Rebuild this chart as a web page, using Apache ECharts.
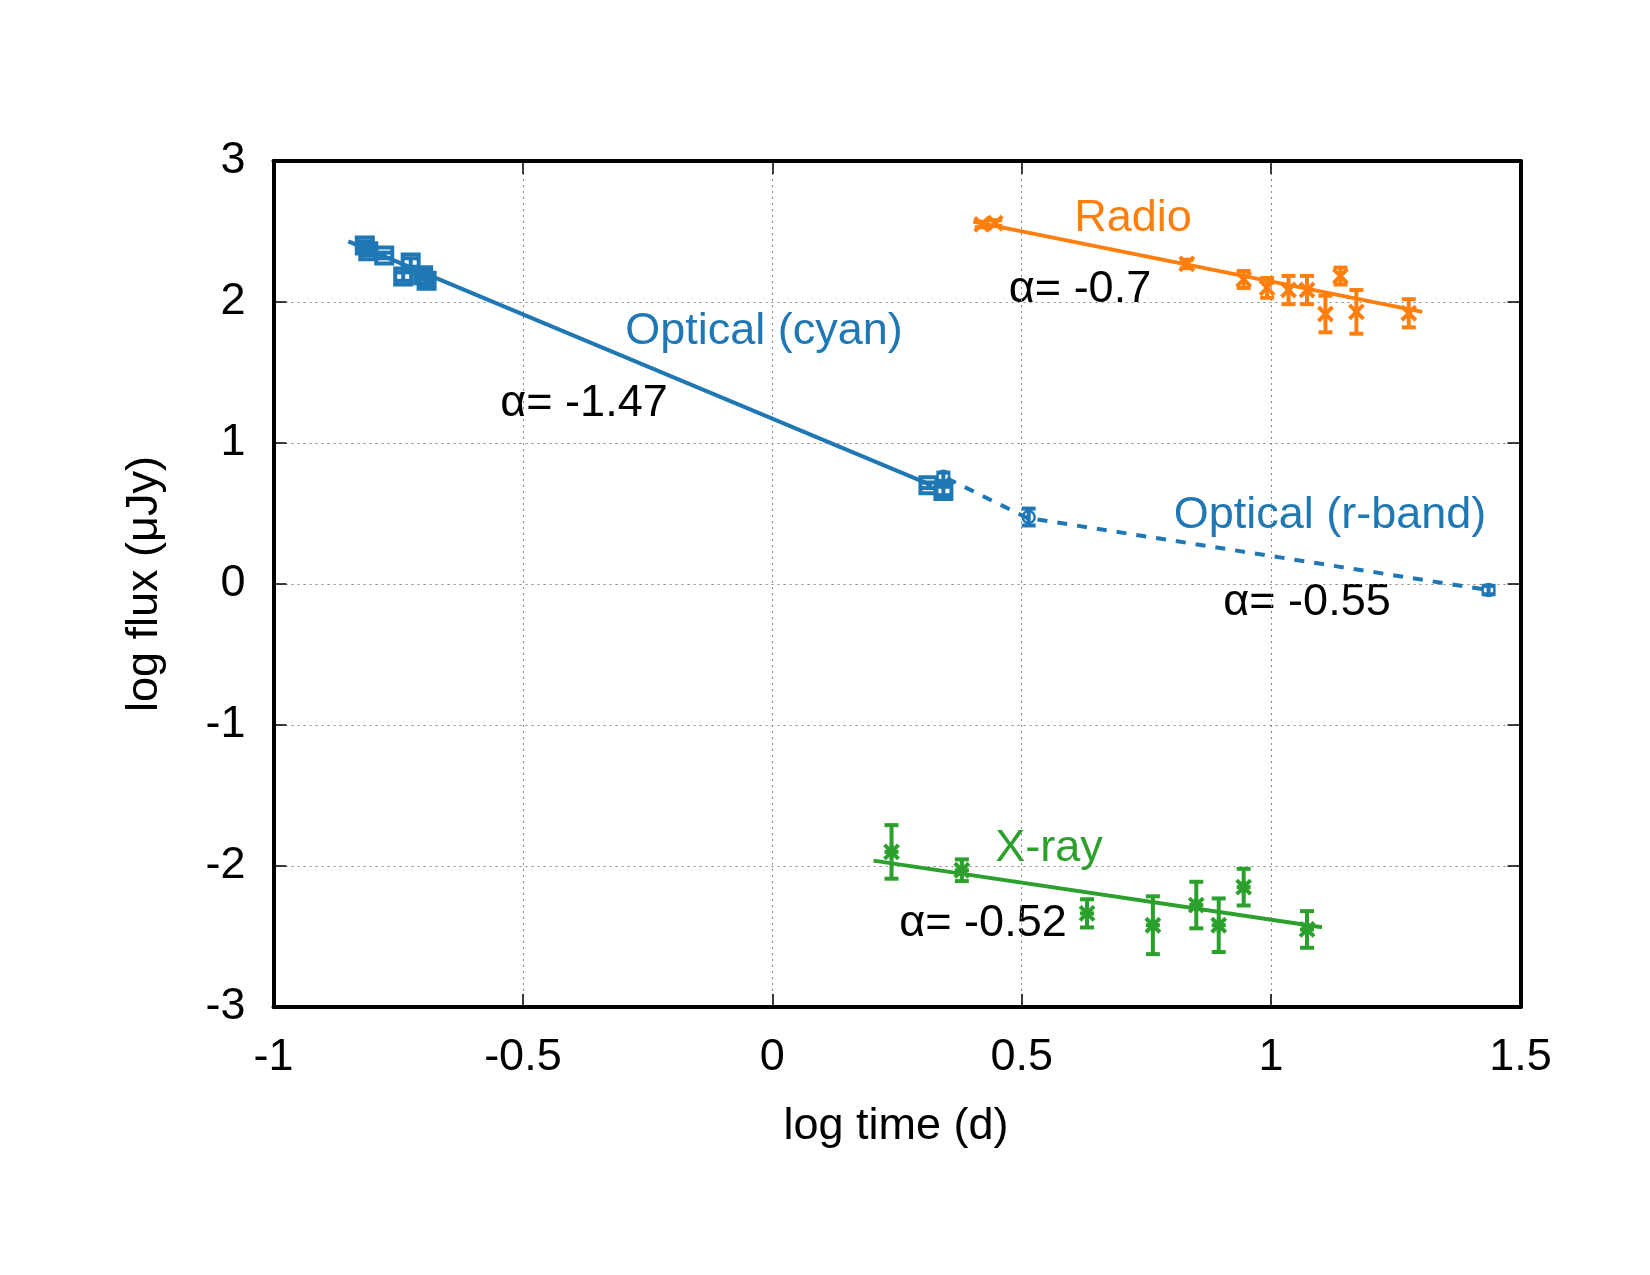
<!DOCTYPE html>
<html>
<head>
<meta charset="utf-8">
<script src="https://cdn.jsdelivr.net/npm/echarts@6/dist/echarts.min.js"></script>
<style>
  html, body { margin: 0; padding: 0; background: #fff; }
  #chart { width: 1650px; height: 1275px; }
</style>
</head>
<body>
<div id="chart"></div>
<script>
// data: [log t, log flux, error]
const cyanPts = [
  [-0.817, 2.40, 0.03], [-0.81, 2.36, 0.03], [-0.778, 2.33, 0.02],
  [-0.725, 2.28, 0.03], [-0.74, 2.18, 0.03], [-0.70, 2.19, 0.03],
  [-0.693, 2.15, 0.03], [0.313, 0.70, 0.02], [0.343, 0.66, 0.03]
];
const rbandPts = [[0.343, 0.76, 0.03], [0.514, 0.475, 0.06], [1.436, -0.043, 0.03]];
const radioPts = [
  [0.42, 2.55, 0.02], [0.447, 2.56, 0.02], [0.831, 2.27, 0.03],
  [0.945, 2.16, 0.06], [0.992, 2.10, 0.07], [1.035, 2.085, 0.10],
  [1.072, 2.085, 0.10], [1.109, 1.915, 0.13], [1.139, 2.184, 0.06],
  [1.171, 1.93, 0.155], [1.276, 1.92, 0.10]
];
const xrayPts = [
  [0.239, -1.90, 0.19], [0.380, -2.03, 0.077], [0.631, -2.336, 0.10],
  [0.763, -2.42, 0.205], [0.85, -2.277, 0.165], [0.895, -2.42, 0.19],
  [0.945, -2.15, 0.13], [1.072, -2.45, 0.13]
];
// fitted power laws
const cyanFit = [[-0.85, 2.43], [0.32, 0.70]];
const rbandFit = [[0.35, 0.75], [0.51, 0.47], [1.43, -0.04]];
const radioFit = [[0.403, 2.57], [1.303, 1.93]];
const xrayFit = [[0.203, -1.962], [1.102, -2.435]];

const xTicks = [-1, -0.5, 0, 0.5, 1, 1.5];
const yTicks = [-3, -2, -1, 0, 1, 2, 3];

const BLUE = '#1f77b4', ORANGE = '#ff7f0e', GREEN = '#2ca02c';
const FONT = 'Liberation Sans';

function errSeries(name, data, color, shape) {
  return {
    name: name,
    type: 'custom',
    data: data,
    z: 5,
    renderItem: function (params, api) {
      const x = api.value(0), y = api.value(1), e = api.value(2);
      const p = api.coord([x, y]);
      const lo = api.coord([x, y - e]);
      const hi = api.coord([x, y + e]);
      const cw = 7;
      const st = { stroke: color, lineWidth: 4, fill: null };
      const kids = [
        { type: 'line', shape: { x1: p[0], y1: lo[1], x2: p[0], y2: hi[1] }, style: st },
        { type: 'line', shape: { x1: p[0] - cw, y1: lo[1], x2: p[0] + cw, y2: lo[1] }, style: st },
        { type: 'line', shape: { x1: p[0] - cw, y1: hi[1], x2: p[0] + cw, y2: hi[1] }, style: st }
      ];
      const s = 7;
      if (shape === 'square') {
        kids.push({ type: 'rect', shape: { x: p[0] - 8, y: p[1] - 8, width: 16, height: 16 },
          style: { stroke: color, lineWidth: 4, fill: null } });
      } else if (shape === 'circle') {
        kids.push({ type: 'circle', shape: { cx: p[0], cy: p[1], r: 6 },
          style: { stroke: color, lineWidth: 2.5, fill: null } });
      } else {
        kids.push({ type: 'line', shape: { x1: p[0] - s, y1: p[1] - s, x2: p[0] + s, y2: p[1] + s }, style: st });
        kids.push({ type: 'line', shape: { x1: p[0] - s, y1: p[1] + s, x2: p[0] + s, y2: p[1] - s }, style: st });
        if (shape === 'star') {
          kids.push({ type: 'line', shape: { x1: p[0] - s, y1: p[1], x2: p[0] + s, y2: p[1] }, style: st });
          kids.push({ type: 'line', shape: { x1: p[0], y1: p[1] - s, x2: p[0], y2: p[1] + s }, style: st });
        }
      }
      return { type: 'group', children: kids };
    }
  };
}

function fitSeries(data, color, dashed) {
  return {
    type: 'line',
    data: data,
    symbol: 'none',
    z: 4,
    lineStyle: { color: color, width: 4, type: dashed ? [10, 10] : 'solid' }
  };
}

const tickLabel = { fontSize: 45, color: '#000', fontFamily: FONT };
const gridLine = { show: true, lineStyle: { color: '#888', type: [2, 4], width: 1 } };
const frame = { show: true, onZero: false, lineStyle: { color: '#000', width: 4 } };
const ticks = { inside: true, length: 13, lineStyle: { color: '#000', width: 1.5 } };

// label helper for the in-plot annotations
function txt(s, x, y, color) {
  return { type: 'text', x: x, y: y,
    style: { text: s, font: '45px "' + FONT + '"', fill: color, align: 'center', verticalAlign: 'middle' } };
}

const chart = echarts.init(document.getElementById('chart'));
chart.setOption({
  backgroundColor: '#fff',
  animation: false,
  grid: { left: 273.5, right: 129.5, top: 161, bottom: 268 },
  xAxis: [
    { type: 'value', min: xTicks[0], max: xTicks[xTicks.length - 1], interval: 0.5,
      axisLine: frame, axisTick: ticks,
      axisLabel: Object.assign({ margin: 28, showMinLabel: true, showMaxLabel: true }, tickLabel),
      splitLine: gridLine },
    { type: 'value', position: 'top', min: xTicks[0], max: xTicks[xTicks.length - 1], interval: 0.5,
      axisLine: frame, axisTick: ticks,
      axisLabel: { show: false }, splitLine: { show: false } }
  ],
  yAxis: [
    { type: 'value', min: yTicks[0], max: yTicks[yTicks.length - 1], interval: 1,
      axisLine: frame, axisTick: ticks,
      axisLabel: Object.assign({ margin: 28, showMinLabel: true, showMaxLabel: true }, tickLabel),
      splitLine: gridLine },
    { type: 'value', position: 'right', min: yTicks[0], max: yTicks[yTicks.length - 1], interval: 1,
      axisLine: frame, axisTick: ticks,
      axisLabel: { show: false }, splitLine: { show: false } }
  ],
  series: [
    fitSeries(cyanFit, BLUE, false),
    fitSeries(rbandFit, BLUE, true),
    fitSeries(radioFit, ORANGE, false),
    fitSeries(xrayFit, GREEN, false),
    errSeries('Optical (cyan)', cyanPts, BLUE, 'square'),
    errSeries('Optical (r-band)', rbandPts, BLUE, 'circle'),
    errSeries('Radio', radioPts, ORANGE, 'cross'),
    errSeries('X-ray', xrayPts, GREEN, 'star')
  ],
  graphic: [
    txt('log time (d)', 896, 1127, '#000'),
    { type: 'text', x: 145, y: 584, rotation: Math.PI / 2,
      style: { text: 'log flux (μJy)', font: '45px "' + FONT + '"', fill: '#000', align: 'center', verticalAlign: 'middle' } },
    txt('Optical (cyan)', 764, 332, BLUE),
    txt('α= -1.47', 584, 404, '#000'),
    txt('Optical (r-band)', 1330, 516, BLUE),
    txt('α= -0.55', 1307, 603, '#000'),
    txt('Radio', 1133, 219, ORANGE),
    txt('α= -0.7', 1080, 290, '#000'),
    txt('X-ray', 1049, 849, GREEN),
    txt('α= -0.52', 983, 924, '#000')
  ]
});
window.onresize = function () {
  chart.resize();
};
</script>
</body>
</html>
